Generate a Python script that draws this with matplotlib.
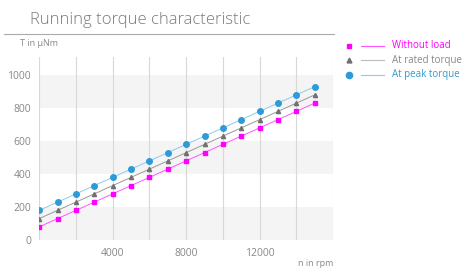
import matplotlib
matplotlib.use("Agg")
import matplotlib.pyplot as plt
from matplotlib.lines import Line2D

plt.rcParams['font.family'] = ['Open Sans', 'DejaVu Sans']

rpm = [0, 1000, 2000, 3000, 4000, 5000, 6000, 7000, 8000, 9000, 10000, 11000, 12000, 13000, 14000, 15000]
without_load = [80, 130, 180, 230, 280, 330, 380, 430, 480, 530, 580, 630, 680, 730, 780, 830]
rated_torque = [130, 180, 230, 280, 330, 380, 430, 480, 530, 580, 630, 680, 730, 780, 830, 880]
peak_torque = [180, 230, 280, 330, 380, 430, 480, 530, 580, 630, 680, 730, 780, 830, 880, 930]
series_names = ["Without load", "At rated torque", "At peak torque"]
x_ticks = [4000, 8000, 12000]
y_ticks = [0, 200, 400, 600, 800, 1000]

W, H = 463, 268
fig = plt.figure(figsize=(W / 100, H / 100), dpi=100)
ax = fig.add_axes([39.3 / W, (H - 240) / H, (333 - 39.3) / W, (240 - 57) / H])

ax.set_xlim(0, 16000)
ax.set_ylim(0, 1110)

# bands
for lo in [0, 400, 800]:
    ax.axhspan(lo, lo + 200, color='#f4f4f4', zorder=0, lw=0)
# vertical grid
for xv in range(0, 16001, 2000):
    ax.axvline(xv, color='#d8d8d8', lw=0.8, zorder=1)

ax.plot(rpm, without_load, color='#ff55ff', lw=0.7, marker='s', ms=2.4,
        mfc='#ff00ff', mec='#ff00ff', zorder=3)
ax.plot(rpm, rated_torque, color='#999999', lw=0.7, marker='^', ms=3,
        mfc='#707070', mec='#707070', zorder=3)
ax.plot(rpm, peak_torque, color='#88ccee', lw=0.7, marker='o', ms=4,
        mfc='#2e9ad8', mec='#2e9ad8', zorder=3)

for s in ax.spines.values():
    s.set_visible(False)
ax.set_xticks(x_ticks)
ax.set_yticks(y_ticks)
ax.tick_params(length=0, labelsize=7.5, labelcolor='#888888', pad=6)

# title and texts
fig.text(30 / W, 1 - 20 / H, "Running torque characteristic", fontsize=12,
         color='#7a7a7a', va='center', ha='left', fontweight='light')
fig.add_artist(Line2D([4 / W, 334 / W], [1 - 34 / H, 1 - 34 / H], color='#aaaaaa', lw=0.8))
fig.text(20 / W, 1 - 44 / H, "T in μNm", fontsize=6.5, color='#888888', va='center', ha='left')
fig.text(333 / W, 1 - 263 / H, "n in rpm", fontsize=6.5, color='#888888', va='center', ha='right')

# legend
leg = [("s", '#ff00ff', '#ff55ff', '#ff00ff', 3),
       ("^", '#707070', '#bbbbbb', '#888888', 3.5),
       ("o", '#2e9ad8', '#88ccee', '#3399cc', 4.5)]
for i, (name, (m, mc, lc, tc, ms)) in enumerate(zip(series_names, leg)):
    yy = 1 - (45.5 + 14.5 * i) / H
    fig.add_artist(Line2D([349 / W], [yy], marker=m, color=mc, ms=ms, lw=0))
    fig.add_artist(Line2D([361 / W, 384 / W], [yy, yy], color=lc, lw=0.8))
    fig.text(392 / W, yy, name, fontsize=7, color=tc, va='center', ha='left')

fig.savefig("out.png", dpi=100)
